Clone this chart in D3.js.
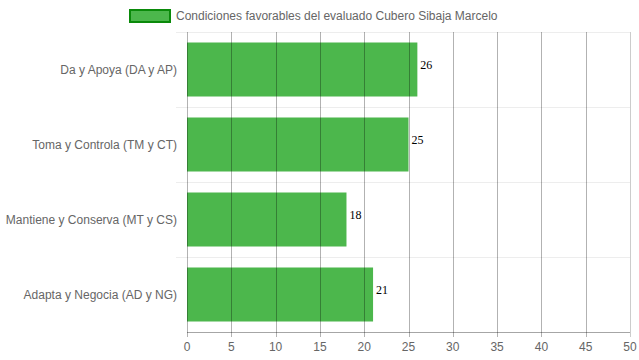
<!DOCTYPE html>
<html><head><meta charset="utf-8">
<script src="https://cdn.jsdelivr.net/npm/d3@7"></script>
<style>body{margin:0;background:#fff}svg{display:block}</style>
</head><body>
<svg id="c" width="639" height="360"></svg>
<script>
const categories = ["Da y Apoya (DA y AP)", "Toma y Controla (TM y CT)", "Mantiene y Conserva (MT y CS)", "Adapta y Negocia (AD y NG)"];
const values = [26, 25, 18, 21];
const seriesName = "Condiciones favorables del evaluado Cubero Sibaja Marcelo";
const xTicks = [0, 5, 10, 15, 20, 25, 30, 35, 40, 45, 50];

const svg = d3.select("#c");
const m = {l: 187, r: 630, t: 32, b: 332};
const x = d3.scaleLinear().domain([0, 50]).range([m.l, m.r]);
const y = d3.scaleBand().domain(categories).range([m.t, m.b]).paddingInner(0).paddingOuter(0);
const font = "'Liberation Sans', Arial, sans-serif";

// horizontal grid lines (light)
const hLines = [m.t].concat(categories.slice(1).map(c => y(c)));
svg.append("g").selectAll("line").data(hLines).join("line")
  .attr("x1", m.l - 11).attr("x2", m.r).attr("y1", d => d + 0.5).attr("y2", d => d + 0.5)
  .attr("stroke", "rgba(0,0,0,0.07)");

// bars
const bw = y.bandwidth() * 0.72;
svg.append("g").selectAll("rect").data(values).join("rect")
  .attr("x", x(0)).attr("y", (d, i) => y(categories[i]) + (y.bandwidth() - bw) / 2)
  .attr("width", d => x(d) - x(0)).attr("height", bw)
  .attr("fill", "rgb(0,153,0)").attr("fill-opacity", 0.7);

// vertical grid lines
svg.append("g").selectAll("line").data(xTicks).join("line")
  .attr("x1", d => Math.round(x(d)) + 0.5).attr("x2", d => Math.round(x(d)) + 0.5)
  .attr("y1", m.t).attr("y2", m.b + 5)
  .attr("stroke", (d, i) => i === xTicks.length - 1 ? "rgba(0,0,0,0.2)" : "rgba(0,0,0,0.3)");

// x axis line
svg.append("line").attr("x1", m.l).attr("x2", m.r).attr("y1", m.b + 0.5).attr("y2", m.b + 0.5)
  .attr("stroke", "rgba(0,0,0,0.35)");

// x tick labels
svg.append("g").selectAll("text").data(xTicks).join("text")
  .attr("x", d => x(d)).attr("y", m.b + 19)
  .attr("text-anchor", "middle").attr("font-family", font).attr("font-size", 12).attr("fill", "#666")
  .text(d => d);

// category labels
svg.append("g").selectAll("text").data(categories).join("text")
  .attr("x", m.l - 10).attr("y", d => y(d) + y.bandwidth() / 2 + 4)
  .attr("text-anchor", "end").attr("font-family", font).attr("font-size", 12).attr("fill", "#666")
  .text(d => d);

// value labels
svg.append("g").selectAll("text").data(values).join("text")
  .attr("x", d => x(d) + 3).attr("y", (d, i) => y(categories[i]) + y.bandwidth() / 2 - 1)
  .attr("font-family", "'Liberation Serif', 'Times New Roman', serif").attr("font-size", 12).attr("fill", "#000")
  .text(d => d);

// legend
svg.append("rect").attr("x", 130).attr("y", 10).attr("width", 40).attr("height", 12)
  .attr("fill", "rgb(0,153,0)").attr("fill-opacity", 0.7).attr("stroke", "#0a8a0a").attr("stroke-width", 2);
svg.append("text").attr("x", 176).attr("y", 20).attr("font-family", font).attr("font-size", 12).attr("fill", "#666")
  .text(seriesName);
</script>
</body></html>
